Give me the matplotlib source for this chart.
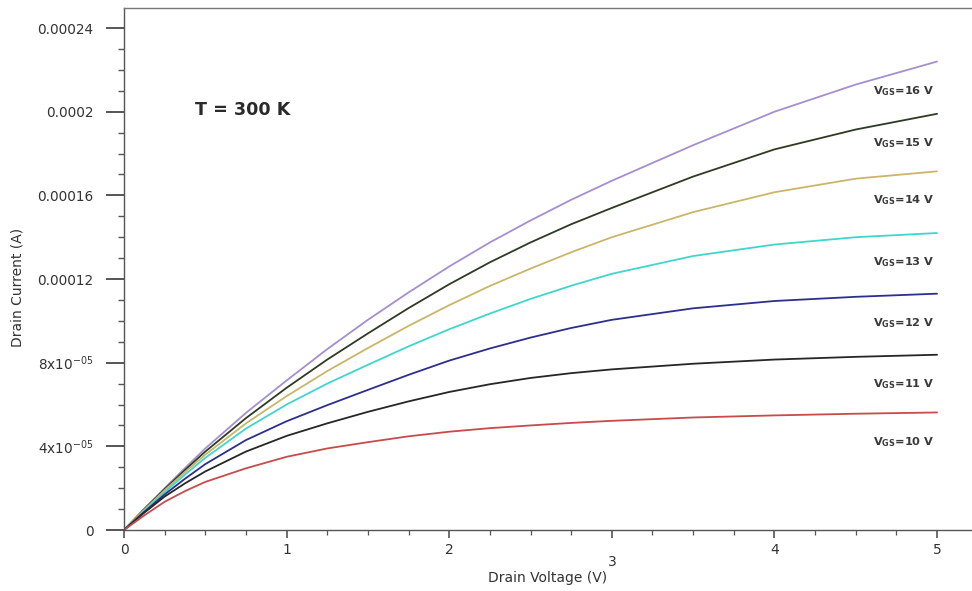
"""Drain current vs drain voltage family of curves at T = 300 K."""

import matplotlib

matplotlib.use("Agg")

import matplotlib.pyplot as plt
from matplotlib.ticker import FixedLocator, MultipleLocator

# Drain voltage samples (V)
drain_voltage = [0, 0.125, 0.25, 0.375, 0.5, 0.75, 1.0, 1.25, 1.5, 1.75, 2.0, 2.25, 2.5, 2.75,
                 3.0, 3.5, 4.0, 4.5, 5.0]

# Gate voltages (V) and drain current (units of 1e-5 A)
gate_voltages = [16, 15, 14, 13, 12, 11, 10]
id_vgs16 = [0, 1.02, 2.0, 2.96, 3.9, 5.6, 7.15, 8.65, 10.05, 11.36, 12.6, 13.75, 14.8, 15.79,
            16.7, 18.4, 20.0, 21.3, 22.4]
id_vgs15 = [0, 1.0, 1.95, 2.87, 3.75, 5.35, 6.8, 8.15, 9.4, 10.61, 11.75, 12.8, 13.75, 14.62,
            15.4, 16.9, 18.2, 19.15, 19.9]
id_vgs14 = [0, 0.97, 1.9, 2.77, 3.6, 5.1, 6.4, 7.6, 8.7, 9.76, 10.75, 11.67, 12.5, 13.28,
            14.0, 15.2, 16.15, 16.8, 17.15]
id_vgs13 = [0, 0.92, 1.8, 2.65, 3.45, 4.85, 6.0, 7.0, 7.9, 8.78, 9.6, 10.35, 11.05, 11.68,
            12.25, 13.1, 13.65, 14.0, 14.2]
id_vgs12 = [0, 0.87, 1.7, 2.45, 3.15, 4.3, 5.2, 5.97, 6.7, 7.42, 8.1, 8.68, 9.2, 9.66,
            10.05, 10.6, 10.95, 11.15, 11.3]
id_vgs11 = [0, 0.83, 1.6, 2.23, 2.8, 3.75, 4.5, 5.1, 5.65, 6.15, 6.6, 6.97, 7.27, 7.5,
            7.68, 7.95, 8.15, 8.28, 8.38]
id_vgs10 = [0, 0.7, 1.35, 1.86, 2.3, 2.95, 3.5, 3.9, 4.2, 4.48, 4.7, 4.87, 5.0, 5.12,
            5.22, 5.38, 5.48, 5.56, 5.62]
curves = [id_vgs16, id_vgs15, id_vgs14, id_vgs13, id_vgs12, id_vgs11, id_vgs10]

y_ticks = [0, 4e-5, 8e-5, 1.2e-4, 1.6e-4, 2e-4, 2.4e-4]
y_tick_labels = ["0", "4x10$^{-05}$", "8x10$^{-05}$", "0.00012", "0.00016", "0.0002", "0.00024"]
x_ticks = [0, 1, 2, 3, 4, 5]

CURVE_COLORS = ["#a58fd0", "#2f3a22", "#c9b66a", "#3fd6cc", "#2c2f8c", "#262626", "#c94a4a"]
SPINE_COLOR = "#555555"
TEXT_COLOR = "#333333"

plt.rcParams["font.family"] = ["DejaVu Sans"]
plt.rcParams["mathtext.default"] = "regular"

fig = plt.figure(figsize=(9.72, 5.91), dpi=100)
ax = fig.add_axes([124 / 972, 1 - 530 / 591, 1 - 124 / 972, (530 - 8) / 591])

for vgs, vals, color in zip(gate_voltages, curves, CURVE_COLORS):
    current = [v * 1e-5 for v in vals]
    ax.plot(drain_voltage, current, color=color, linewidth=1.3, solid_capstyle="round")
    ax.annotate(
        f"V$_{{GS}}$={vgs} V",
        xy=(drain_voltage[-1], current[-1]),
        xytext=(-2, -21),
        textcoords="offset points",
        ha="right",
        va="center",
        fontsize=8.2,
        fontweight="bold",
        color="#3a3a3a",
    )

ax.text(0.084, 0.805, "T = 300 K", transform=ax.transAxes, fontsize=12.6,
        fontweight="bold", color="#2a2a2a", ha="left", va="center")

ax.set_xlim(0, 5.215)
ax.set_ylim(0, 0.0002496)

ax.xaxis.set_major_locator(FixedLocator(x_ticks))
ax.xaxis.set_minor_locator(MultipleLocator(0.25))
ax.yaxis.set_major_locator(FixedLocator(y_ticks))
ax.yaxis.set_minor_locator(MultipleLocator(1e-5))
ax.set_yticklabels(y_tick_labels)

ax.spines["right"].set_visible(False)
for side in ("left", "bottom", "top"):
    ax.spines[side].set_color(SPINE_COLOR)
    ax.spines[side].set_linewidth(1.0)
ax.spines["top"].set_color("#777777")

ax.tick_params(axis="y", which="major", direction="out", length=13, width=1.4,
               color=SPINE_COLOR, pad=9, labelsize=9.8, labelcolor=TEXT_COLOR)
ax.tick_params(axis="y", which="minor", direction="out", length=4.5, width=1.0,
               color=SPINE_COLOR)
ax.tick_params(axis="x", which="major", direction="out", length=6, width=1.2,
               color=SPINE_COLOR, pad=3, labelsize=10, labelcolor=TEXT_COLOR)
ax.tick_params(axis="x", which="minor", direction="out", length=3.5, width=0.9,
               color=SPINE_COLOR)

# the "3" label sits lower, running into the axis title
ax.xaxis.get_major_ticks()[3].set_pad(12)

ax.set_xlabel("Drain Voltage (V)", fontsize=10, color=TEXT_COLOR)
ax.set_ylabel("Drain Current (A)", fontsize=10, color=TEXT_COLOR)
ax.yaxis.set_label_coords(-0.117, 0.464)
ax.xaxis.set_label_coords(0.5, -0.078)

fig.savefig("out.png", dpi=100)
